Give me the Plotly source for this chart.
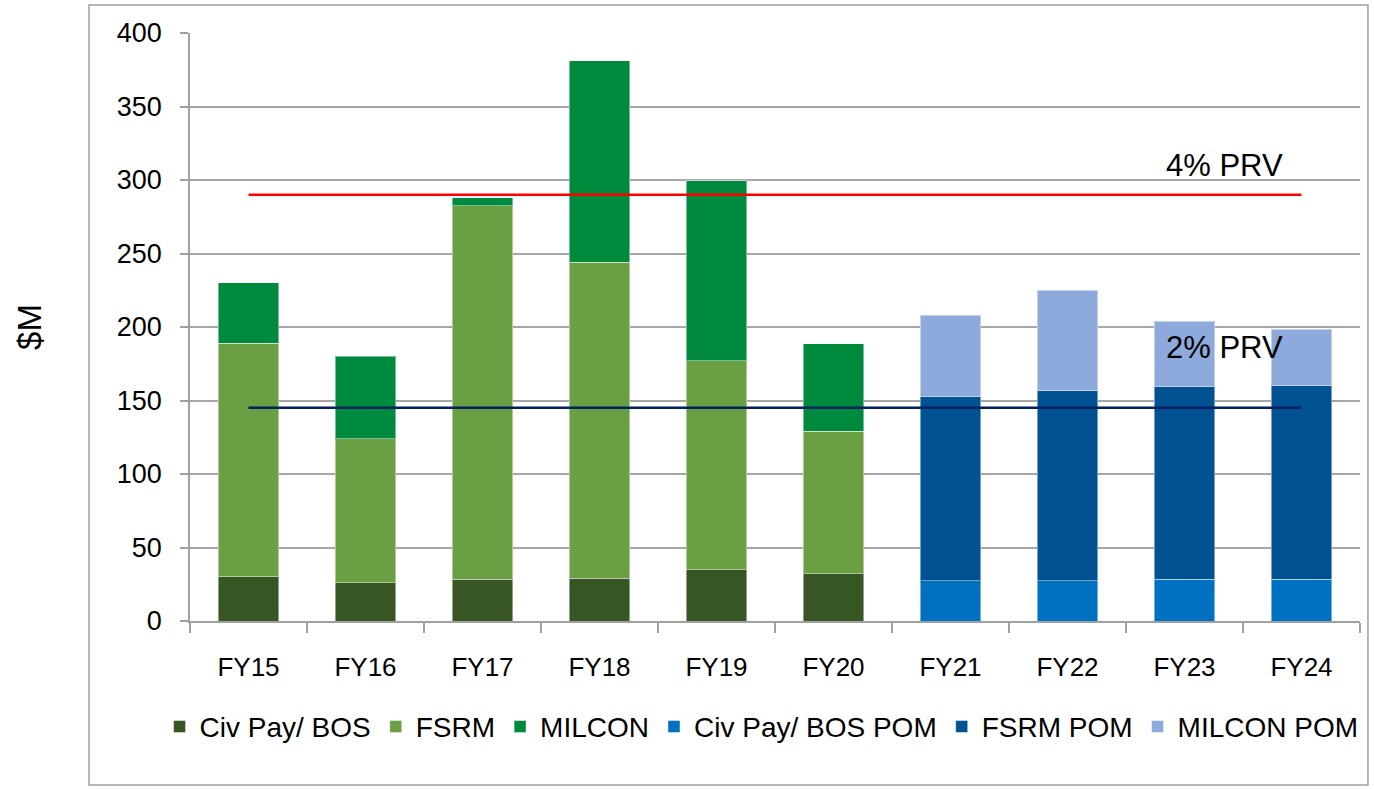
import plotly.graph_objects as go

categories = ["FY15", "FY16", "FY17", "FY18", "FY19", "FY20", "FY21", "FY22", "FY23", "FY24"]
civ_pay_bos = [30, 26, 28.5, 29, 35, 32, None, None, None, None]
fsrm = [159, 98, 254, 215, 142, 97, None, None, None, None]
milcon = [41, 56, 5.5, 137, 122.5, 59.5, None, None, None, None]
civ_pay_bos_pom = [None, None, None, None, None, None, 27.5, 27.5, 28.5, 28.5]
fsrm_pom = [None, None, None, None, None, None, 125, 129, 131, 131.5]
milcon_pom = [None, None, None, None, None, None, 55.5, 68.5, 44.5, 38.5]
prv_4pct = 290
prv_2pct = 145
y_ticks = [0, 50, 100, 150, 200, 250, 300, 350, 400]

FONT = "Liberation Sans, Arial, sans-serif"

series = [
    ("Civ Pay/ BOS", civ_pay_bos, "#385623"),
    ("FSRM", fsrm, "#6A9F43"),
    ("MILCON", milcon, "#008A3E"),
    ("Civ Pay/ BOS POM", civ_pay_bos_pom, "#0070C0"),
    ("FSRM POM", fsrm_pom, "#005293"),
    ("MILCON POM", milcon_pom, "#8EA9DB"),
]

fig = go.Figure()
for name, vals, color in series:
    fig.add_trace(go.Bar(
        x=categories, y=vals, name=name,
        marker=dict(color=color, line=dict(color="rgba(255,255,255,0.45)", width=1)),
        width=0.52,
    ))

fig.add_trace(go.Scatter(x=categories, y=[prv_4pct] * len(categories), mode="lines",
                         line=dict(color="#FF0000", width=2.5), showlegend=False, hoverinfo="skip"))
fig.add_trace(go.Scatter(x=categories, y=[prv_2pct] * len(categories), mode="lines",
                         line=dict(color="#002060", width=2.5), showlegend=False, hoverinfo="skip"))

fig.update_layout(
    width=1374, height=789,
    barmode="stack",
    margin=dict(l=190, r=14, t=33, b=168),
    paper_bgcolor="white", plot_bgcolor="white",
    font=dict(family=FONT, color="black", size=26),
    showlegend=True,
    legend=dict(orientation="h", x=-0.026, xanchor="left", y=-0.18, yanchor="middle",
                font=dict(size=28, family=FONT), traceorder="normal",
                bgcolor="rgba(0,0,0,0)"),
    xaxis=dict(
        type="category", range=[-0.5, 9.5],
        showline=True, linecolor="#A0A0A0", linewidth=1.5,
        ticks="outside", tickson="boundaries", ticklen=10, tickcolor="#A0A0A0", tickwidth=1.5,
        tickfont=dict(size=26), showgrid=False, ticklabelstandoff=22,
    ),
    yaxis=dict(
        range=[0, 400], tickvals=y_ticks,
        showline=True, linecolor="#A0A0A0", linewidth=1.5,
        ticks="outside", ticklen=8, tickcolor="#A0A0A0", tickwidth=1.5,
        showgrid=True, gridcolor="#A6A6A6", gridwidth=1.5,
        tickfont=dict(size=27), ticklabelstandoff=13,
        zeroline=False,
        title=dict(text="$M", font=dict(size=33), standoff=65),
    ),
    annotations=[
        dict(text="4% PRV", xref="paper", yref="y", x=0.8846, y=310, showarrow=False,
             font=dict(size=31), xanchor="center", yanchor="middle"),
        dict(text="2% PRV", xref="paper", yref="y", x=0.8846, y=186, showarrow=False,
             font=dict(size=31), xanchor="center", yanchor="middle"),
    ],
    shapes=[
        dict(type="rect", xref="paper", yref="paper", x0=-0.0863, x1=1.0068, y0=-0.279, y1=1.0476,
             line=dict(color="#A0A0A0", width=1.5), fillcolor="rgba(0,0,0,0)", layer="below"),
    ],
)

fig.write_html("out.html", config={"displayModeBar": False},
               post_script="document.body.style.margin='0';")
